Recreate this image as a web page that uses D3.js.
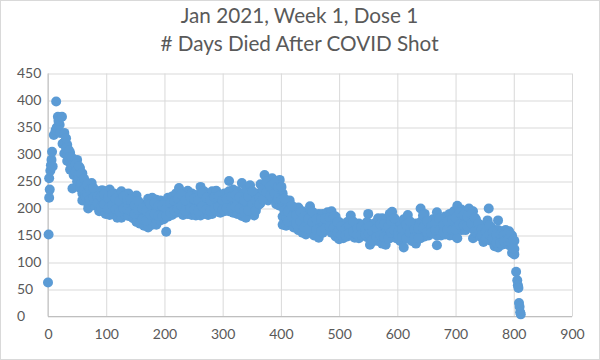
<!DOCTYPE html>
<html>
<head>
<meta charset="utf-8">
<script src="https://cdn.jsdelivr.net/npm/d3@7"></script>
<style>
    body { margin: 0; background: #fff; }
    text { font-family: Lato, "Open Sans", sans-serif; fill: #595959; }
    .title { font-size: 20.7px; }
    .tick text { font-size: 14px; }
</style>
</head>
<body>
<svg id="chart"></svg>
<script>
const chartTitle = ['Jan 2021, Week 1, Dose 1', '# Days Died After COVID Shot'];
const xTicks = [0, 100, 200, 300, 400, 500, 600, 700, 800, 900];
const yTicks = [0, 50, 100, 150, 200, 250, 300, 350, 400, 450];

// single points: the first spike, the stragglers and the end of the tail
const loneDays = [0, 1, 2, 3, 2, 4, 5, 6, 7, 8, 10, 13, 14, 15, 17, 20, 18, 21, 24, 25, 42, 203, 550, 757, 773, 804, 806, 807, 808, 809, 810, 811, 812];
const loneCounts = [63, 152, 220, 235, 256, 270, 280, 290, 305, 278, 336, 345, 398, 350, 370, 355, 362, 340, 370, 320, 237, 157, 190, 200, 178, 83, 67, 58, 53, 25, 18, 8, 4];

// the dense band, one list of readings per day column
const bandDays = [
    28, 33, 38, 44, 50, 55, 59, 64, 69, 75, 81, 88, 93, 99, 106, 113, 119, 126, 133, 138,
    146, 152, 158, 165, 172, 179, 186, 193, 199, 206, 213, 220, 225, 232, 240, 247, 254, 262, 268, 275,
    282, 289, 296, 303, 311, 318, 325, 333, 340, 347, 354, 360, 365, 372, 378, 385, 392, 398, 403, 409,
    415, 422, 430, 437, 443, 450, 457, 465, 472, 480, 487, 494, 500, 507, 514, 520, 527, 534, 541, 548,
    553, 560, 567, 574, 580, 587, 591, 598, 605, 611, 618, 625, 632, 640, 647, 654, 661, 668, 675, 682,
    690, 697, 703, 710, 717, 723, 730, 735, 742, 748, 755, 761, 767, 773, 780, 786, 792, 797, 801
];
const bandCounts = [
    [340, 322, 302], [318, 300, 288], [303, 285, 272], [290, 275, 262], [290, 268, 250], [275, 255, 238],
    [265, 245, 228, 215], [250, 238, 222], [245, 225, 208, 200], [247, 230, 212], [228, 215, 205], [232, 212, 195],
    [234, 218, 200], [232, 210, 190], [235, 218, 195, 188], [228, 208, 190], [222, 205, 183], [232, 212, 190, 183],
    [225, 208, 188], [228, 205, 186], [215, 198, 182], [224, 205, 190, 175], [210, 190, 172], [205, 188, 168],
    [218, 198, 180, 165], [220, 200, 182, 170], [216, 195, 178, 170], [215, 195, 178], [210, 192, 180], [220, 200, 185],
    [222, 205, 188], [228, 208, 192], [238, 215, 195], [225, 205, 188], [233, 210, 190], [228, 208, 188],
    [225, 205, 187], [240, 215, 192, 187], [232, 208, 190], [225, 205, 188], [232, 210, 190], [233, 212, 195],
    [225, 205, 192], [228, 208, 195], [251, 232, 210, 195], [235, 215, 192], [232, 210, 190], [247, 225, 205, 186],
    [235, 210, 183], [243, 220, 198], [225, 205, 187], [228, 212, 205], [245, 225, 210], [262, 240, 220],
    [250, 232, 215], [256, 238, 220], [250, 230, 208], [253, 228, 205], [228, 208, 185, 170], [205, 185, 168],
    [215, 195, 175], [195, 180, 165], [202, 185, 168, 160], [195, 175, 155], [190, 172, 152], [204, 185, 165],
    [190, 170, 150], [190, 170, 146], [190, 172, 155], [193, 175, 160], [195, 175, 155], [185, 165, 148],
    [175, 160, 143], [170, 155, 145], [175, 160, 148], [187, 165, 150], [170, 158, 146], [172, 158, 145],
    [170, 155, 150], [175, 160, 147], [165, 150, 133], [172, 155, 140], [182, 160, 140], [182, 160, 135],
    [178, 155, 133], [190, 165, 145], [194, 170, 150], [165, 152, 145], [170, 155, 140], [180, 160, 128],
    [188, 165, 145], [170, 152, 140], [172, 155, 135], [200, 175, 155, 145], [190, 165, 148], [175, 160, 150],
    [180, 165, 155], [193, 170, 150, 132], [178, 162, 150], [185, 168, 152], [190, 170, 150], [195, 172, 150],
    [205, 180, 160, 145], [198, 178, 160], [195, 175, 160], [200, 180, 165], [195, 172, 145], [180, 165, 155],
    [170, 155, 148], [165, 150, 138], [178, 160, 145], [165, 150, 140], [160, 145, 130], [160, 145, 128],
    [158, 145, 133], [160, 148, 135], [158, 145, 132], [150, 135, 118], [140, 125, 115]
];

// the points that sit between those columns and close up the band
const innerDays = [
    31, 36, 41, 47, 53, 57, 62, 67, 72, 78, 85, 91, 96, 103, 110, 116, 123, 130, 136, 142,
    149, 155, 162, 169, 176, 183, 190, 196, 203, 210, 217, 223, 229, 236, 244, 251, 258, 265, 272, 279,
    286, 293, 300, 307, 315, 322, 329, 337, 344, 351, 357, 363, 369, 375, 382, 389, 395, 401, 406, 412,
    419, 426, 434, 440, 447, 454, 461, 469, 476, 484, 491, 497, 504, 511, 517, 524, 531, 538, 545, 551,
    557, 564, 571, 577, 584, 589, 595, 602, 608, 615, 622, 629, 636, 644, 651, 658, 665, 672, 679, 686,
    694, 700, 707, 714, 720, 727, 733, 739, 745, 752, 758, 764, 770, 777, 783, 789, 795, 799
];
const innerCounts = [
    [330, 312], [308, 295], [294, 280], [282, 268], [278, 260], [265, 246], [255, 235], [244, 228], [235, 216], [238, 220],
    [222, 210], [222, 204], [226, 208], [220, 200], [226, 206], [218, 198], [214, 194], [222, 200], [216, 198], [216, 195],
    [206, 190], [214, 197], [200, 180], [196, 178], [208, 188], [210, 190], [205, 186], [205, 186], [200, 186], [210, 192],
    [214, 196], [218, 200], [226, 205], [215, 196], [222, 200], [218, 198], [215, 196], [228, 204], [220, 198], [215, 196],
    [221, 200], [222, 203], [215, 198], [218, 201], [222, 202], [225, 203], [221, 200], [215, 195], [222, 196], [232, 208],
    [215, 196], [220, 208], [235, 217], [250, 230], [241, 224], [247, 228], [240, 218], [240, 216], [218, 196], [195, 176],
    [205, 185], [188, 172], [193, 176], [185, 165], [181, 162], [194, 175], [180, 160], [180, 158], [181, 163], [184, 167],
    [185, 165], [175, 156], [167, 151], [162, 150], [167, 154], [176, 157], [164, 152], [165, 151], [162, 152], [167, 153],
    [157, 141], [163, 147], [171, 150], [171, 147], [166, 144], [177, 155], [182, 160], [158, 148], [162, 147], [170, 144],
    [176, 155], [161, 146], [163, 145], [187, 165], [177, 156], [167, 155], [172, 160], [181, 160], [170, 156], [176, 160],
    [180, 160], [183, 161], [192, 170], [188, 169], [185, 167], [190, 172], [183, 158], [172, 160], [162, 151], [157, 144],
    [169, 152], [157, 145], [152, 137], [152, 136], [151, 139], [154, 141], [151, 138], [142, 126]
];

const width = 600, height = 360;
const margin = { top: 73.5, right: 28, bottom: 43.5, left: 48 };

const points = loneDays.map((d, i) => [d, loneCounts[i]])
    .concat(bandDays.flatMap((d, i) => bandCounts[i].map(c => [d, c])))
    .concat(innerDays.flatMap((d, i) => innerCounts[i].map(c => [d, c])));

const svg = d3.select('#chart')
    .attr('width', width)
    .attr('height', height)
    .style('display', 'block');

const xScale = d3.scaleLinear().domain([0, 900]).range([margin.left, width - margin.right]);
const yScale = d3.scaleLinear().domain([0, 450]).range([height - margin.bottom, margin.top]);

// chart frame
svg.append('rect')
    .attr('x', 0.5).attr('y', 0.5)
    .attr('width', width - 1).attr('height', height - 1)
    .attr('fill', '#fff')
    .attr('stroke', '#d9d9d9');

svg.append('text')
    .attr('class', 'title')
    .attr('text-anchor', 'middle')
    .selectAll('tspan')
    .data(chartTitle)
    .join('tspan')
    .attr('x', 299.5)
    .attr('y', (d, i) => 23 + i * 28)
    .text(d => d);

const xAxis = svg.append('g')
    .attr('transform', `translate(0, ${height - margin.bottom})`)
    .call(d3.axisBottom(xScale).tickValues(xTicks).tickSize(-(height - margin.top - margin.bottom)).tickPadding(12.5));

const yAxis = svg.append('g')
    .attr('transform', `translate(${margin.left}, 0)`)
    .call(d3.axisLeft(yScale).tickValues(yTicks).tickSize(-(width - margin.left - margin.right)).tickPadding(13));

yAxis.selectAll('.tick text').attr('text-anchor', 'start').attr('x', -31);

[xAxis, yAxis].forEach(axis => {
    axis.select('.domain').remove();
    axis.selectAll('.tick line').attr('stroke', '#d9d9d9').attr('stroke-width', 1);
});

// baseline and left axis sit a bit darker than the grid
svg.append('line')
    .attr('x1', xScale(0)).attr('x2', xScale(900))
    .attr('y1', yScale(0)).attr('y2', yScale(0))
    .attr('stroke', '#bfbfbf');
svg.append('line')
    .attr('x1', xScale(0)).attr('x2', xScale(0))
    .attr('y1', yScale(0)).attr('y2', yScale(450))
    .attr('stroke', '#bfbfbf');

svg.append('g')
    .selectAll('circle')
    .data(points)
    .join('circle')
    .attr('cx', d => xScale(d[0]))
    .attr('cy', d => yScale(d[1]))
    .attr('r', 5)
    .attr('fill', '#5b9bd5');
</script>
</body>
</html>
